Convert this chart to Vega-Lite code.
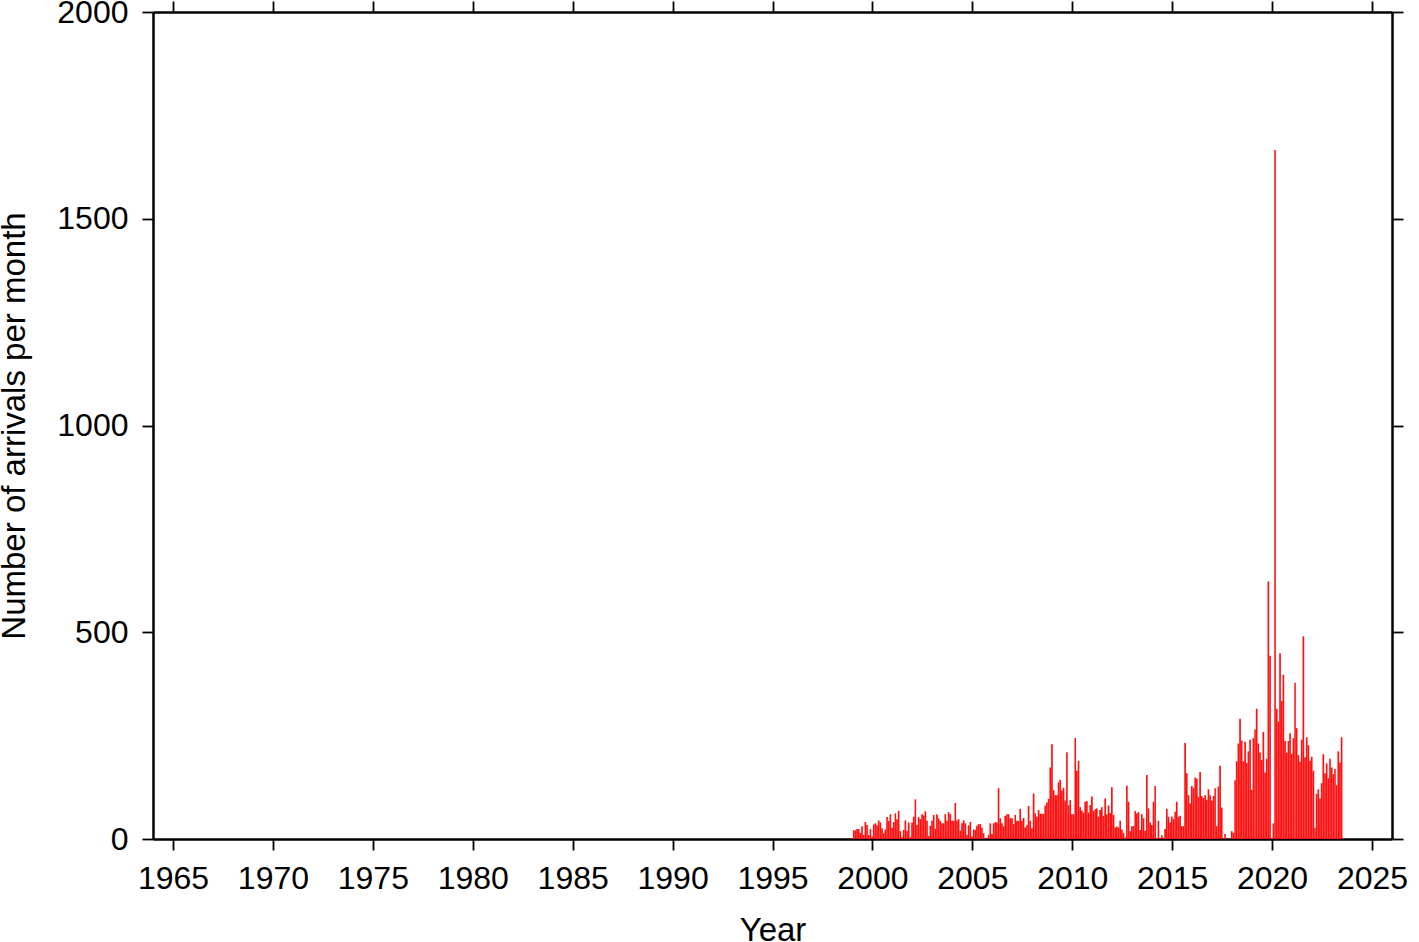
{
  "$schema": "https://vega.github.io/schema/vega-lite/v6.json",
  "width": 1239,
  "height": 827,
  "autosize": {"type": "none"},
  "padding": {"left": 153, "top": 12, "right": 27, "bottom": 103},
  "background": "white",
  "config": {
    "view": {"stroke": null},
    "font": "Liberation Sans",
    "axis": {
      "domainColor": "black", "domainWidth": 2.5, "tickColor": "black", "tickWidth": 1.8, "tickSize": 11,
      "grid": false, "labelFont": "Liberation Sans", "labelFontSize": 32, "labelColor": "black",
      "titleFont": "Liberation Sans", "titleFontSize": 33, "titleFontWeight": "normal", "titleColor": "black"
    }
  },
  "datasets": {
    "arrivals": [
      {"date":"1999-01-01","n":21},{"date":"1999-02-01","n":21},{"date":"1999-03-01","n":24},{"date":"1999-04-01","n":24},{"date":"1999-05-01","n":15},{"date":"1999-06-01","n":31},{"date":"1999-07-01","n":10},{"date":"1999-08-01","n":41},{"date":"1999-09-01","n":34},{"date":"1999-10-01","n":10},{"date":"1999-11-01","n":24},{"date":"1999-12-01","n":6},
      {"date":"2000-01-01","n":35},{"date":"2000-02-01","n":38},{"date":"2000-03-01","n":33},{"date":"2000-04-01","n":45},{"date":"2000-05-01","n":40},{"date":"2000-06-01","n":26},{"date":"2000-07-01","n":14},{"date":"2000-08-01","n":23},{"date":"2000-09-01","n":53},{"date":"2000-10-01","n":44},{"date":"2000-11-01","n":60},{"date":"2000-12-01","n":27},
      {"date":"2001-01-01","n":41},{"date":"2001-02-01","n":62},{"date":"2001-03-01","n":48},{"date":"2001-04-01","n":68},{"date":"2001-05-01","n":19},{"date":"2001-06-01","n":5},{"date":"2001-07-01","n":22},{"date":"2001-08-01","n":45},{"date":"2001-09-01","n":20},{"date":"2001-10-01","n":40},{"date":"2001-11-01","n":5},{"date":"2001-12-01","n":40},
      {"date":"2002-01-01","n":54},{"date":"2002-02-01","n":96},{"date":"2002-03-01","n":34},{"date":"2002-04-01","n":53},{"date":"2002-05-01","n":48},{"date":"2002-06-01","n":60},{"date":"2002-07-01","n":57},{"date":"2002-08-01","n":67},{"date":"2002-09-01","n":44},{"date":"2002-10-01","n":7},{"date":"2002-11-01","n":32},{"date":"2002-12-01","n":44},
      {"date":"2003-01-01","n":58},{"date":"2003-02-01","n":25},{"date":"2003-03-01","n":60},{"date":"2003-04-01","n":50},{"date":"2003-05-01","n":44},{"date":"2003-06-01","n":38},{"date":"2003-07-01","n":38},{"date":"2003-08-01","n":60},{"date":"2003-09-01","n":44},{"date":"2003-10-01","n":65},{"date":"2003-11-01","n":60},{"date":"2003-12-01","n":44},
      {"date":"2004-01-01","n":44},{"date":"2004-02-01","n":87},{"date":"2004-03-01","n":45},{"date":"2004-04-01","n":48},{"date":"2004-05-01","n":20},{"date":"2004-06-01","n":38},{"date":"2004-07-01","n":45},{"date":"2004-08-01","n":38},{"date":"2004-09-01","n":10},{"date":"2004-10-01","n":33},{"date":"2004-11-01","n":41},{"date":"2004-12-01","n":6},
      {"date":"2005-01-01","n":23},{"date":"2005-02-01","n":22},{"date":"2005-03-01","n":32},{"date":"2005-04-01","n":36},{"date":"2005-05-01","n":36},{"date":"2005-06-01","n":27},{"date":"2005-07-01","n":14},{"date":"2005-08-01","n":0},{"date":"2005-09-01","n":0},{"date":"2005-10-01","n":10},{"date":"2005-11-01","n":38},{"date":"2005-12-01","n":12},
      {"date":"2006-01-01","n":38},{"date":"2006-02-01","n":41},{"date":"2006-03-01","n":40},{"date":"2006-04-01","n":123},{"date":"2006-05-01","n":50},{"date":"2006-06-01","n":38},{"date":"2006-07-01","n":31},{"date":"2006-08-01","n":56},{"date":"2006-09-01","n":60},{"date":"2006-10-01","n":60},{"date":"2006-11-01","n":50},{"date":"2006-12-01","n":50},
      {"date":"2007-01-01","n":36},{"date":"2007-02-01","n":58},{"date":"2007-03-01","n":44},{"date":"2007-04-01","n":44},{"date":"2007-05-01","n":73},{"date":"2007-06-01","n":44},{"date":"2007-07-01","n":51},{"date":"2007-08-01","n":28},{"date":"2007-09-01","n":33},{"date":"2007-10-01","n":80},{"date":"2007-11-01","n":44},{"date":"2007-12-01","n":26},
      {"date":"2008-01-01","n":110},{"date":"2008-02-01","n":62},{"date":"2008-03-01","n":54},{"date":"2008-04-01","n":70},{"date":"2008-05-01","n":61},{"date":"2008-06-01","n":61},{"date":"2008-07-01","n":61},{"date":"2008-08-01","n":81},{"date":"2008-09-01","n":88},{"date":"2008-10-01","n":97},{"date":"2008-11-01","n":173},{"date":"2008-12-01","n":229},
      {"date":"2009-01-01","n":118},{"date":"2009-02-01","n":106},{"date":"2009-03-01","n":106},{"date":"2009-04-01","n":137},{"date":"2009-05-01","n":143},{"date":"2009-06-01","n":117},{"date":"2009-07-01","n":124},{"date":"2009-08-01","n":93},{"date":"2009-09-01","n":210},{"date":"2009-10-01","n":82},{"date":"2009-11-01","n":94},{"date":"2009-12-01","n":60},
      {"date":"2010-01-01","n":60},{"date":"2010-02-01","n":244},{"date":"2010-03-01","n":165},{"date":"2010-04-01","n":189},{"date":"2010-05-01","n":77},{"date":"2010-06-01","n":69},{"date":"2010-07-01","n":64},{"date":"2010-08-01","n":90},{"date":"2010-09-01","n":92},{"date":"2010-10-01","n":64},{"date":"2010-11-01","n":82},{"date":"2010-12-01","n":103},
      {"date":"2011-01-01","n":68},{"date":"2011-02-01","n":72},{"date":"2011-03-01","n":74},{"date":"2011-04-01","n":54},{"date":"2011-05-01","n":70},{"date":"2011-06-01","n":77},{"date":"2011-07-01","n":56},{"date":"2011-08-01","n":98},{"date":"2011-09-01","n":60},{"date":"2011-10-01","n":81},{"date":"2011-11-01","n":63},{"date":"2011-12-01","n":125},
      {"date":"2012-01-01","n":58},{"date":"2012-02-01","n":28},{"date":"2012-03-01","n":30},{"date":"2012-04-01","n":28},{"date":"2012-05-01","n":44},{"date":"2012-06-01","n":23},{"date":"2012-07-01","n":15},{"date":"2012-08-01","n":4},{"date":"2012-09-01","n":129},{"date":"2012-10-01","n":90},{"date":"2012-11-01","n":19},{"date":"2012-12-01","n":31},
      {"date":"2013-01-01","n":31},{"date":"2013-02-01","n":68},{"date":"2013-03-01","n":62},{"date":"2013-04-01","n":65},{"date":"2013-05-01","n":22},{"date":"2013-06-01","n":60},{"date":"2013-07-01","n":50},{"date":"2013-08-01","n":20},{"date":"2013-09-01","n":155},{"date":"2013-10-01","n":74},{"date":"2013-11-01","n":40},{"date":"2013-12-01","n":34},
      {"date":"2014-01-01","n":90},{"date":"2014-02-01","n":128},{"date":"2014-03-01","n":2},{"date":"2014-04-01","n":44},{"date":"2014-05-01","n":2},{"date":"2014-06-01","n":9},{"date":"2014-07-01","n":3},{"date":"2014-08-01","n":24},{"date":"2014-09-01","n":73},{"date":"2014-10-01","n":54},{"date":"2014-11-01","n":40},{"date":"2014-12-01","n":54},
      {"date":"2015-01-01","n":48},{"date":"2015-02-01","n":66},{"date":"2015-03-01","n":90},{"date":"2015-04-01","n":54},{"date":"2015-05-01","n":56},{"date":"2015-06-01","n":31},{"date":"2015-07-01","n":31},{"date":"2015-08-01","n":232},{"date":"2015-09-01","n":159},{"date":"2015-10-01","n":106},{"date":"2015-11-01","n":86},{"date":"2015-12-01","n":128},
      {"date":"2016-01-01","n":123},{"date":"2016-02-01","n":149},{"date":"2016-03-01","n":146},{"date":"2016-04-01","n":102},{"date":"2016-05-01","n":162},{"date":"2016-06-01","n":104},{"date":"2016-07-01","n":99},{"date":"2016-08-01","n":106},{"date":"2016-09-01","n":95},{"date":"2016-10-01","n":120},{"date":"2016-11-01","n":106},{"date":"2016-12-01","n":93},
      {"date":"2017-01-01","n":104},{"date":"2017-02-01","n":123},{"date":"2017-03-01","n":31},{"date":"2017-04-01","n":127},{"date":"2017-05-01","n":177},{"date":"2017-06-01","n":76},{"date":"2017-07-01","n":0},{"date":"2017-08-01","n":12},{"date":"2017-09-01","n":0},{"date":"2017-10-01","n":0},{"date":"2017-11-01","n":0},{"date":"2017-12-01","n":19},
      {"date":"2018-01-01","n":15},{"date":"2018-02-01","n":142},{"date":"2018-03-01","n":188},{"date":"2018-04-01","n":231},{"date":"2018-05-01","n":291},{"date":"2018-06-01","n":238},{"date":"2018-07-01","n":188},{"date":"2018-08-01","n":235},{"date":"2018-09-01","n":184},{"date":"2018-10-01","n":212},{"date":"2018-11-01","n":240},{"date":"2018-12-01","n":119},
      {"date":"2019-01-01","n":244},{"date":"2019-02-01","n":265},{"date":"2019-03-01","n":315},{"date":"2019-04-01","n":231},{"date":"2019-05-01","n":209},{"date":"2019-06-01","n":191},{"date":"2019-07-01","n":259},{"date":"2019-08-01","n":161},{"date":"2019-09-01","n":194},{"date":"2019-10-01","n":623},{"date":"2019-11-01","n":443},{"date":"2019-12-01","n":0},
      {"date":"2020-01-01","n":38},{"date":"2020-02-01","n":1666},{"date":"2020-03-01","n":315},{"date":"2020-04-01","n":284},{"date":"2020-05-01","n":449},{"date":"2020-06-01","n":334},{"date":"2020-07-01","n":397},{"date":"2020-08-01","n":237},{"date":"2020-09-01","n":209},{"date":"2020-10-01","n":237},{"date":"2020-11-01","n":256},{"date":"2020-12-01","n":206},
      {"date":"2021-01-01","n":244},{"date":"2021-02-01","n":378},{"date":"2021-03-01","n":268},{"date":"2021-04-01","n":203},{"date":"2021-05-01","n":187},{"date":"2021-06-01","n":240},{"date":"2021-07-01","n":490},{"date":"2021-08-01","n":198},{"date":"2021-09-01","n":246},{"date":"2021-10-01","n":227},{"date":"2021-11-01","n":189},{"date":"2021-12-01","n":199},
      {"date":"2022-01-01","n":165},{"date":"2022-02-01","n":27},{"date":"2022-03-01","n":109},{"date":"2022-04-01","n":120},{"date":"2022-05-01","n":98},{"date":"2022-06-01","n":135},{"date":"2022-07-01","n":205},{"date":"2022-08-01","n":159},{"date":"2022-09-01","n":183},{"date":"2022-10-01","n":147},{"date":"2022-11-01","n":194},{"date":"2022-12-01","n":173},
      {"date":"2023-01-01","n":157},{"date":"2023-02-01","n":169},{"date":"2023-03-01","n":130},{"date":"2023-04-01","n":212},{"date":"2023-05-01","n":185},{"date":"2023-06-01","n":246}
    ]
  },
  "data": {"name": "arrivals"},
  "layer": [
    {
      "mark": {"type": "bar", "color": "#ff1010", "binSpacing": 0},
      "encoding": {
        "x": {
          "field": "date", "type": "temporal", "timeUnit": "utcyearmonth",
          "scale": {"type": "utc", "domain": [{"year": 1964, "month": 1, "date": 1, "utc": true}, {"year": 2026, "month": 1, "date": 1, "utc": true}], "nice": false},
          "axis": {
            "orient": "bottom", "title": "Year", "format": "%Y", "labelPadding": 13, "titlePadding": 20,
            "values": [
              {"year": 1965, "month": 1, "date": 1, "utc": true}, {"year": 1970, "month": 1, "date": 1, "utc": true},
              {"year": 1975, "month": 1, "date": 1, "utc": true}, {"year": 1980, "month": 1, "date": 1, "utc": true},
              {"year": 1985, "month": 1, "date": 1, "utc": true}, {"year": 1990, "month": 1, "date": 1, "utc": true},
              {"year": 1995, "month": 1, "date": 1, "utc": true}, {"year": 2000, "month": 1, "date": 1, "utc": true},
              {"year": 2005, "month": 1, "date": 1, "utc": true}, {"year": 2010, "month": 1, "date": 1, "utc": true},
              {"year": 2015, "month": 1, "date": 1, "utc": true}, {"year": 2020, "month": 1, "date": 1, "utc": true},
              {"year": 2025, "month": 1, "date": 1, "utc": true}
            ]
          }
        },
        "y": {
          "field": "n", "type": "quantitative",
          "scale": {"domain": [0, 2000], "nice": false},
          "axis": {"orient": "left", "title": "Number of arrivals per month", "format": "d", "values": [0, 500, 1000, 1500, 2000], "labelPadding": 14, "titlePadding": 25}
        }
      }
    },
    {
      "mark": {"type": "bar", "opacity": 0},
      "encoding": {
        "x": {
          "field": "date", "type": "temporal", "timeUnit": "utcyearmonth",
          "axis": {
            "orient": "top", "title": null, "labels": false,
            "values": [
              {"year": 1965, "month": 1, "date": 1, "utc": true}, {"year": 1970, "month": 1, "date": 1, "utc": true},
              {"year": 1975, "month": 1, "date": 1, "utc": true}, {"year": 1980, "month": 1, "date": 1, "utc": true},
              {"year": 1985, "month": 1, "date": 1, "utc": true}, {"year": 1990, "month": 1, "date": 1, "utc": true},
              {"year": 1995, "month": 1, "date": 1, "utc": true}, {"year": 2000, "month": 1, "date": 1, "utc": true},
              {"year": 2005, "month": 1, "date": 1, "utc": true}, {"year": 2010, "month": 1, "date": 1, "utc": true},
              {"year": 2015, "month": 1, "date": 1, "utc": true}, {"year": 2020, "month": 1, "date": 1, "utc": true},
              {"year": 2025, "month": 1, "date": 1, "utc": true}
            ]
          }
        },
        "y": {
          "field": "n", "type": "quantitative",
          "axis": {"orient": "right", "title": null, "labels": false, "values": [0, 500, 1000, 1500, 2000]}
        }
      }
    }
  ],
  "resolve": {"axis": {"x": "independent", "y": "independent"}}
}
